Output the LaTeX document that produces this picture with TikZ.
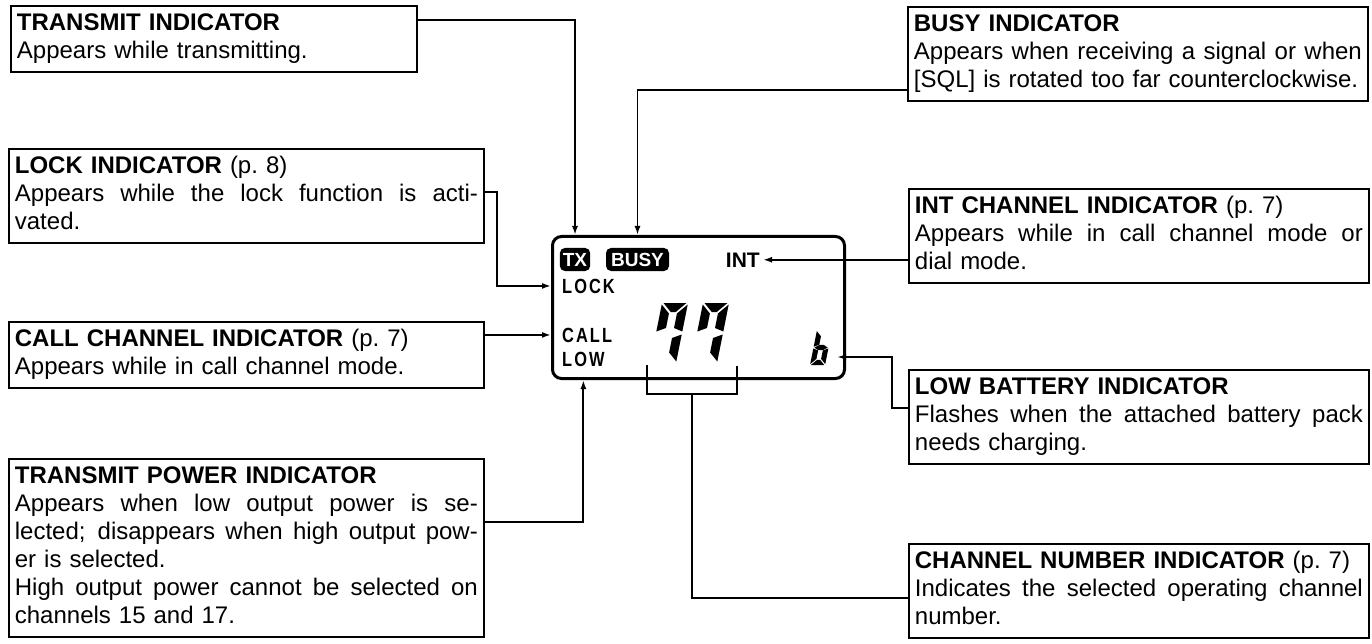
\documentclass[tikz,border=0pt]{standalone}
\usepackage{fontspec}
\setmainfont{Liberation Sans}
\newfontfamily\lcdfont{Liberation Sans}[FakeStretch=0.8,LetterSpace=10]
\usetikzlibrary{arrows.meta}
\setlength{\parindent}{0pt}
\newcommand{\jline}[2][463pt]{\makebox[#1][s]{\spaceskip=0pt\xspaceskip=0pt\relax #2}}
\newcommand{\segA}{\fill (1.5,-60) -- (24.5,-60) -- (15.5,-51) -- (10.5,-51) -- cycle;}
\newcommand{\segB}{\fill (26,-58.5) -- (26,-31.5) -- (17,-35) -- (17,-49.5) -- cycle;}
\newcommand{\segC}{\fill (26,-28.5) -- (26,-1.5) -- (17,-10.5) -- (17,-25) -- cycle;}
\newcommand{\segD}{\fill (1.5,0) -- (24.5,0) -- (15.5,-9) -- (10.5,-9) -- cycle;}
\newcommand{\segE}{\fill (0,-28.5) -- (9,-25) -- (9,-10.5) -- (0,-1.5) -- cycle;}
\newcommand{\segF}{\fill (0,-58.5) -- (9,-49.5) -- (9,-35) -- (0,-31.5) -- cycle;}
\newcommand{\segG}{\fill (1.5,-30) -- (9,-34.5) -- (17,-34.5) -- (24.5,-30) -- (17,-25.5) -- (9,-25.5) -- cycle;}
\tikzset{
  infobox/.style={draw, line width=1.8pt, anchor=north west, align=left,
    inner xsep=6pt, inner ysep=5pt, font=\fontsize{24}{28}\selectfont},
  conn/.style={line width=1.8pt},
  arr/.style={conn, -{Latex[length=9pt,width=6pt]}},
  lcdbox/.style={draw, line width=3pt, rounded corners=9pt, minimum width=292pt,
    minimum height=142pt, anchor=north west, inner sep=0pt},
  badge/.style={fill=black, text=white, rounded corners=5pt, minimum height=23pt,
    inner xsep=3pt, inner ysep=0pt, font=\fontsize{19}{19}\selectfont\bfseries},
  lcdlabel/.style={inner sep=0pt, anchor=base west, font=\lcdfont\fontsize{20.5}{20.5}\selectfont\bfseries},
}
\begin{document}
\begin{tikzpicture}[x=1pt,y=-1pt]
\fill[white] (0,0) rectangle (1372,644);
\useasboundingbox (0,0) rectangle (1372,644);

% info boxes
\node[infobox, text width=394pt] (transmit) at (10,5)
  {\strut\textbf{TRANSMIT INDICATOR}\\Appears while transmitting.\strut};
\node[infobox, text width=448pt] (busyb) at (907,6)
  {\strut\textbf{BUSY INDICATOR}\\\jline[448pt]{Appears when receiving a signal or when}\\{}[SQL] is rotated too far counterclockwise.\strut};
\node[infobox, text width=463pt] (lockb) at (8,148)
  {\strut\textbf{LOCK INDICATOR} (p.\ 8)\\\jline{Appears while the lock function is acti-}\\vated.\strut};
\node[infobox, text width=448pt] (intb) at (908,188)
  {\strut\textbf{INT CHANNEL INDICATOR} (p.\ 7)\\\jline[448pt]{Appears while in call channel mode or}\\dial mode.\strut};
\node[infobox, text width=463pt] (callb) at (8,321)
  {\strut\textbf{CALL CHANNEL INDICATOR} (p.\ 7)\\Appears while in call channel mode.\strut};
\node[infobox, text width=448pt] (lowb) at (908,369)
  {\strut\textbf{LOW BATTERY INDICATOR}\\\jline[448pt]{Flashes when the attached battery pack}\\needs charging.\strut};
\node[infobox, text width=463pt] (txpb) at (8,458)
  {\strut\textbf{TRANSMIT POWER INDICATOR}\\\jline{Appears when low output power is se-}\\\jline{lected; disappears when high output pow-}\\er is selected.\\\jline{High output power cannot be selected on}\\channels 15 and 17.\strut};
\node[infobox, text width=448pt] (chanb) at (908,543)
  {\strut\textbf{CHANNEL NUMBER INDICATOR} (p.\ 7)\\\jline[448pt]{Indicates the selected operating channel}\\number.\strut};

% LCD
\node[lcdbox] (lcd) at (551,235) {};
\node[badge, minimum width=30pt] (tx) at (575,259.5) {TX};
\node[badge, minimum width=63pt] (busy) at (637.5,259.5) {BUSY};
\node[inner sep=0pt, anchor=base east, font=\fontsize{21}{21}\selectfont\bfseries] (intl) at (760,267) {INT};
\node[lcdlabel] (lockl) at (562,293) {LOCK};
\node[lcdlabel] (calll) at (562,342) {CALL};
\node[lcdlabel] (lowl) at (562,366) {LOW};

% digits 7 7
\begin{scope}[shift={(650,363)}, xslant=0.2]
  \segA \segB \segC \segF
\end{scope}
\begin{scope}[shift={(691,363)}, xslant=0.2]
  \segA \segB \segC \segF
\end{scope}
% small b
\begin{scope}[shift={(810,365)}, xslant=0.2, scale=0.58]
  \segF \segE \segD \segC \segG
\end{scope}

% connectors
\coordinate (txy) at (0,20);
\draw[arr] (transmit.east |- txy) -| (lcd.north -| tx);
\coordinate (busyy) at (0,90);
\draw[arr] (busyb.west |- busyy) -| (lcd.north -| busy);
\coordinate (lockj) at (497,192);
\draw[arr] (lockb.east |- lockj) -| (lockj |- lockl) -- (lcd.west |- lockl);
\draw[arr] (callb.east |- calll) -- (lcd.west |- calll);
\coordinate (txpy) at (0,522);
\draw[arr] (txpb.east |- txpy) -| (lcd.south -| lowl);
\draw[arr] (intb.west |- intl) -- ([xshift=3pt]intl.east);
\coordinate (lowy) at (0,408);
\coordinate (bjog) at (892,357);
\coordinate (btip) at (837,357);
\draw[arr] (lowb.west |- lowy) -| (bjog) -- (btip);
\coordinate (brl) at (647,365);
\coordinate (brr) at (737,366);
\coordinate (brm) at (692,394);
\coordinate (chany) at (0,598);
\draw[conn] (brl) |- (brm) -| (brr);
\draw[conn] (brm) |- (chanb.west |- chany);
\end{tikzpicture}
\end{document}
